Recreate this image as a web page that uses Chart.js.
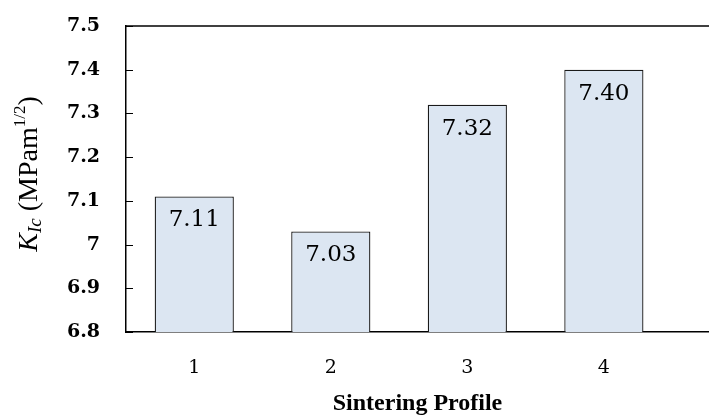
<!DOCTYPE html>
<html>
<head>
<meta charset="utf-8">
<script src="https://cdn.jsdelivr.net/npm/chart.js@4.4.1/dist/chart.umd.min.js"></script>
<style>
  html, body { margin: 0; padding: 0; background: #fff; }
  #wrap { width: 709px; height: 416px; }
</style>
</head>
<body>
<div id="wrap"><canvas id="grafico"></canvas></div>
<script>
// Datos del grafico
const perfiles = [1, 2, 3, 4];
const etiquetasPerfiles = ['1', '2', '3', '4'];
const valoresKic = [7.11, 7.03, 7.32, 7.40];
const yMin = 6.8;
const yMax = 7.5;
const yPaso = 0.1;

// Titulo del eje Y con cursiva, subindice y superindice
const tituloEjeY = {
  id: 'tituloEjeY',
  afterDraw(chart) {
    const ctx = chart.ctx;
    const area = chart.chartArea;
    const partes = [
      { t: 'K', font: 'italic 28px "Liberation Serif"', dy: 0 },
      { t: 'Ic', font: 'italic 19px "Liberation Serif"', dy: 6 },
      { t: ' (MPam', font: '28px "Liberation Serif"', dy: 0 },
      { t: '1/2', font: '17px "Liberation Serif"', dy: -9 },
      { t: ')', font: '28px "Liberation Serif"', dy: 0 }
    ];
    ctx.save();
    let total = 0;
    partes.forEach(p => { ctx.font = p.font; p.w = ctx.measureText(p.t).width; total += p.w; });
    ctx.translate(30, (area.top + area.bottom) / 2 - 5);
    ctx.rotate(-Math.PI / 2);
    ctx.fillStyle = '#000';
    ctx.textBaseline = 'middle';
    ctx.textAlign = 'left';
    let x = -total / 2;
    partes.forEach(p => {
      ctx.font = p.font;
      ctx.fillText(p.t, x, p.dy);
      x += p.w;
    });
    ctx.restore();
  }
};

// Marco superior y marcas hacia dentro en el eje Y
const marco = {
  id: 'marco',
  afterDraw(chart) {
    const ctx = chart.ctx;
    const area = chart.chartArea;
    const y = chart.scales.y;
    ctx.save();
    ctx.strokeStyle = '#000';
    ctx.lineWidth = 1.5;
    ctx.beginPath();
    ctx.moveTo(area.left, area.top);
    ctx.lineTo(area.right, area.top);
    ctx.stroke();
    ctx.lineWidth = 1;
    y.ticks.forEach(t => {
      const py = Math.round(y.getPixelForValue(t.value)) + 0.5;
      ctx.beginPath();
      ctx.moveTo(area.left, py);
      ctx.lineTo(area.left + 7, py);
      ctx.stroke();
    });
    ctx.restore();
  }
};

// Valores dentro de cada barra
const etiquetasBarras = {
  id: 'etiquetasBarras',
  afterDatasetsDraw(chart) {
    const ctx = chart.ctx;
    const meta = chart.getDatasetMeta(0);
    ctx.save();
    ctx.font = '23px "DejaVu Serif"';
    ctx.fillStyle = '#000';
    ctx.textAlign = 'center';
    ctx.textBaseline = 'middle';
    meta.data.forEach((barra, i) => {
      ctx.fillText(valoresKic[i].toFixed(2), barra.x, barra.y + 24);
    });
    ctx.restore();
  }
};

const ctx = document.getElementById('grafico').getContext('2d');
new Chart(ctx, {
  type: 'bar',
  data: {
    datasets: [{
      label: 'KIc',
      data: perfiles.map((p, i) => ({ x: p, y: valoresKic[i] })),
      backgroundColor: '#dce6f2',
      borderColor: '#1a1a1a',
      borderWidth: 1.3,
      categoryPercentage: 1,
      barPercentage: 0.58
    }]
  },
  options: {
    responsive: true,
    maintainAspectRatio: false,
    animation: false,
    layout: { padding: { left: 0, top: 26, right: 0, bottom: 0 } },
    plugins: {
      legend: { display: false },
      tooltip: { enabled: false }
    },
    scales: {
      x: {
        type: 'linear',
        offset: false,
        min: 0.5,
        max: 4.77,
        afterBuildTicks: scale => { scale.ticks = perfiles.map(v => ({ value: v })); },
        afterFit: scale => { scale.height = 84; scale.paddingLeft = 0; scale.paddingRight = 0; },
        grid: { display: false, drawTicks: false, offset: false },
        border: { display: true, color: '#000', width: 1.5 },
        ticks: {
          padding: 25,
          color: '#000',
          font: { family: 'DejaVu Serif', size: 19 },
          callback: v => etiquetasPerfiles[perfiles.indexOf(v)]
        },
        title: {
          display: true,
          text: 'Sintering Profile',
          color: '#000',
          padding: { top: 0, bottom: 0 },
          font: { family: 'Liberation Serif', size: 24, weight: 'bold', lineHeight: 1.05 }
        }
      },
      y: {
        min: yMin,
        max: yMax,
        afterFit: scale => { scale.width = 126; scale.paddingTop = 0; scale.paddingBottom = 0; },
        grid: { display: false, drawTicks: false },
        border: { display: true, color: '#000', width: 1.5 },
        ticks: {
          stepSize: yPaso,
          padding: 26,
          color: '#000',
          font: { family: 'DejaVu Serif', size: 19, weight: 'bold' },
          callback: v => String(Number(v.toFixed(1)))
        }
      }
    }
  },
  plugins: [tituloEjeY, marco, etiquetasBarras]
});
</script>
</body>
</html>
